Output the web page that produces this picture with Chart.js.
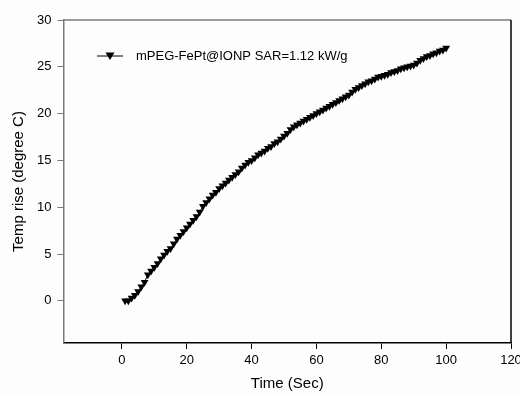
<!DOCTYPE html>
<html>
<head>
<meta charset="utf-8">
<script src="https://cdn.jsdelivr.net/npm/chart.js@4"></script>
<style>
  html, body { margin: 0; padding: 0; background: #fdfdfd; }
  #wrap { width: 520px; height: 395px; position: relative; }
</style>
</head>
<body>
<div id="wrap"><canvas id="c"></canvas></div>
<script>
// time in seconds
const times = [];
for (let i = 1; i <= 100; i++) times.push(i);

// temperature rise (degree C)
const tempRise = [
  0.0, 0.0, 0.3, 0.6, 1.0, 1.5, 2.0, 2.8, 3.2, 3.6,
  4.0, 4.5, 4.9, 5.3, 5.6, 6.1, 6.6, 7.0, 7.4, 7.8,
  8.2, 8.6, 9.0, 9.5, 10.1, 10.5, 10.9, 11.3, 11.6, 12.0,
  12.3, 12.6, 12.9, 13.2, 13.5, 13.8, 14.2, 14.5, 14.8, 15.0,
  15.3, 15.6, 15.8, 16.0, 16.3, 16.5, 16.8, 17.0, 17.3, 17.6,
  17.9, 18.3, 18.6, 18.8, 19.0, 19.2, 19.4, 19.6, 19.8, 20.0,
  20.2, 20.4, 20.6, 20.8, 21.0, 21.2, 21.4, 21.6, 21.8, 22.0,
  22.3, 22.6, 22.8, 23.0, 23.2, 23.4, 23.5, 23.7, 23.9, 24.0,
  24.1, 24.2, 24.4, 24.5, 24.6, 24.8, 24.9, 25.0, 25.1, 25.2,
  25.4, 25.7, 25.9, 26.1, 26.2, 26.4, 26.5, 26.7, 26.8, 27.0
];

const xTicks = [0, 20, 40, 60, 80, 100, 120];
const yTicks = [0, 5, 10, 15, 20, 25, 30];
const seriesLabel = 'mPEG-FePt@IONP SAR=1.12 kW/g';

const FONT = 'Liberation Sans, Arial, sans-serif';

// frame lines (top gray, right black) + legend inside plot
const framePlugin = {
  id: 'frame',
  afterDraw(chart) {
    const { ctx, chartArea: a } = chart;
    ctx.save();
    ctx.lineWidth = 1.5;
    ctx.strokeStyle = '#7a7a7a';
    ctx.beginPath();
    ctx.moveTo(a.left, a.top);
    ctx.lineTo(a.right, a.top);
    ctx.stroke();
    ctx.strokeStyle = '#000';
    ctx.beginPath();
    ctx.moveTo(a.right, a.top);
    ctx.lineTo(a.right, a.bottom);
    ctx.stroke();

    // legend
    const ly = 56, lx0 = 97, lx1 = 123;
    ctx.lineWidth = 1;
    ctx.beginPath();
    ctx.moveTo(lx0, ly);
    ctx.lineTo(lx1, ly);
    ctx.stroke();
    const mx = 110;
    ctx.fillStyle = '#000';
    ctx.beginPath();
    ctx.moveTo(mx - 4.5, ly - 3.5);
    ctx.lineTo(mx + 4.5, ly - 3.5);
    ctx.lineTo(mx, ly + 4);
    ctx.closePath();
    ctx.fill();
    ctx.font = '13px ' + FONT;
    ctx.textBaseline = 'middle';
    ctx.fillText(seriesLabel, 136, ly);
    ctx.restore();
  }
};

new Chart(document.getElementById('c'), {
  type: 'line',
  data: {
    labels: times,
    datasets: [{
      label: seriesLabel,
      data: times.map((t, i) => ({ x: t, y: tempRise[i] })),
      borderColor: '#000',
      borderWidth: 1,
      backgroundColor: '#000',
      pointStyle: 'triangle',
      rotation: 180,
      pointRadius: 4.5,
      pointBorderWidth: 0,
      tension: 0
    }]
  },
  options: {
    responsive: true,
    maintainAspectRatio: false,
    animation: false,
    layout: { padding: { top: 20, right: 9, left: 0, bottom: 0 } },
    plugins: { legend: { display: false }, tooltip: { enabled: false } },
    scales: {
      x: {
        type: 'linear',
        min: -18,
        max: 120,
        afterBuildTicks: s => { s.ticks = xTicks.map(v => ({ value: v })); },
        afterFit: s => { s.height = 52; s.paddingLeft = 0; s.paddingRight = 0; },
        grid: { drawOnChartArea: false, tickLength: 6, color: '#000', lineWidth: 1 },
        border: { color: '#000', width: 1.5 },
        ticks: { color: '#000', font: { family: FONT, size: 13 }, padding: 4, maxRotation: 0 },
        title: { display: true, text: 'Time (Sec)', color: '#000', font: { family: FONT, size: 15 }, padding: { top: 12, bottom: 2 } }
      },
      y: {
        type: 'linear',
        min: -4.5,
        max: 30,
        afterBuildTicks: s => { s.ticks = yTicks.map(v => ({ value: v })); },
        afterFit: s => { s.width = 63.5; s.paddingTop = 0; s.paddingBottom = 0; },
        grid: { drawOnChartArea: false, tickLength: 6, color: '#7a7a7a', lineWidth: 1 },
        border: { color: '#7a7a7a', width: 1.5 },
        ticks: { color: '#000', font: { family: FONT, size: 13 }, padding: 6 },
        title: { display: true, text: 'Temp rise (degree C)', color: '#000', font: { family: FONT, size: 15 }, padding: { top: 10, bottom: 0 } }
      }
    }
  },
  plugins: [framePlugin]
});
</script>
</body>
</html>
